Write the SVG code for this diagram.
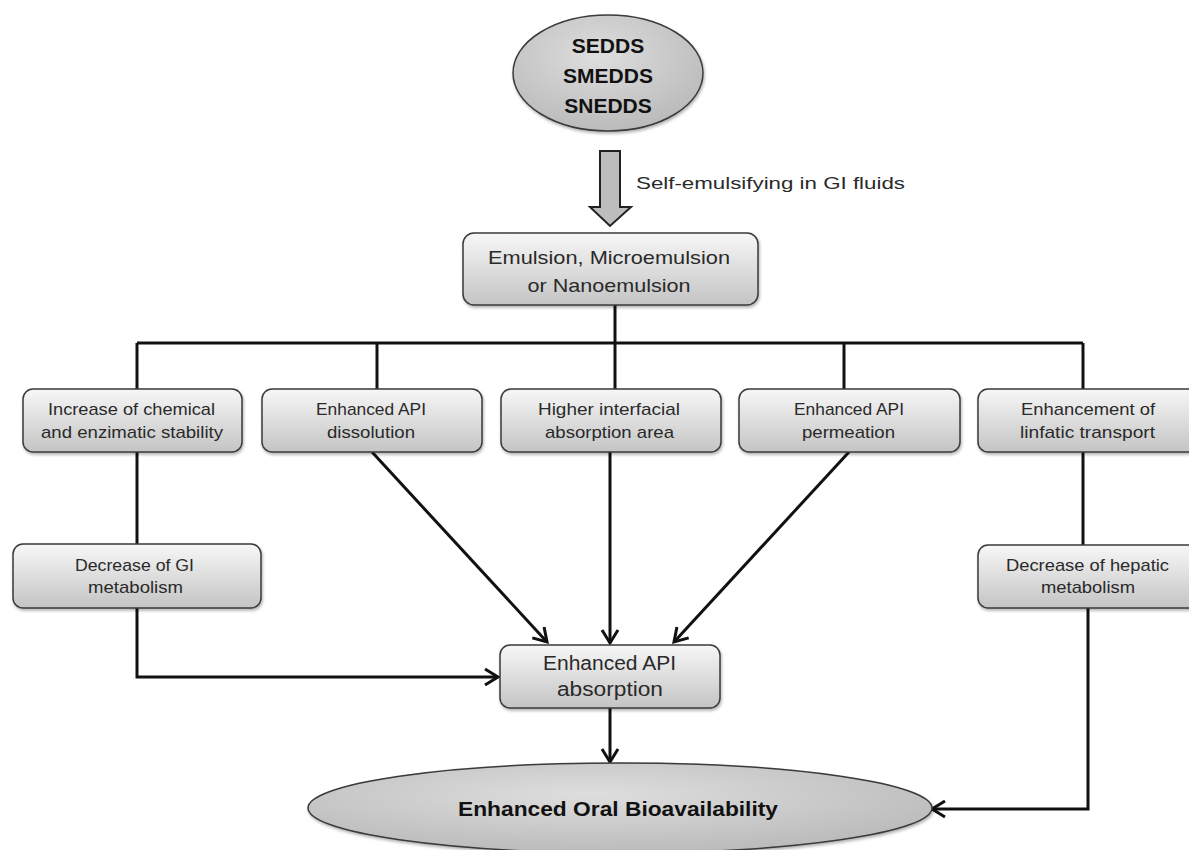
<svg xmlns="http://www.w3.org/2000/svg" width="1189" height="850" viewBox="0 0 1189 850">
<defs>
<linearGradient id="boxg" x1="0" y1="0" x2="0" y2="1">
<stop offset="0" stop-color="#f7f7f7"/>
<stop offset="1" stop-color="#c4c4c4"/>
</linearGradient>
<radialGradient id="ellg" cx="0.45" cy="0.35" r="0.7">
<stop offset="0" stop-color="#dedede"/>
<stop offset="1" stop-color="#b8b8b8"/>
</radialGradient>
<filter id="sh" x="-10%" y="-10%" width="120%" height="130%">
<feDropShadow dx="1" dy="2" stdDeviation="1.5" flood-color="#000" flood-opacity="0.3"/>
</filter>
<marker id="arr" markerUnits="userSpaceOnUse" markerWidth="20" markerHeight="20" viewBox="0 0 20 20" refX="16" refY="10" orient="auto">
<path d="M3,2 L16,10 L3,18" fill="none" stroke="#111" stroke-width="3" stroke-linejoin="miter"/>
</marker>
</defs>
<style>
.box{fill:url(#boxg);stroke:#3a3a3a;stroke-width:1.5;filter:url(#sh)}
.ell{fill:url(#ellg);stroke:#3a3a3a;stroke-width:1.5;filter:url(#sh)}
.t{font-family:"Liberation Sans",Arial,sans-serif;font-size:17px;fill:#2a2a2a;text-anchor:middle}
.tb{font-family:"Liberation Sans",Arial,sans-serif;font-size:21px;font-weight:bold;fill:#111;text-anchor:middle}
.c{fill:none;stroke:#111;stroke-width:3}
</style>
<rect width="1189" height="850" fill="#fff"/>

<g id="connectors">
<polygon points="600,151 620,151 620,207 631,207 610,226 590,207 600,207" fill="#bdbdbd" stroke="#222" stroke-width="2"/>
<path class="c" d="M615,305 V343"/>
<path class="c" d="M137,343 H1083"/>
<path class="c" d="M137,343 V389"/>
<path class="c" d="M377,343 V389"/>
<path class="c" d="M615,343 V389"/>
<path class="c" d="M844,343 V389"/>
<path class="c" d="M1083,343 V389"/>
<path class="c" d="M137,452 V544"/>
<path class="c" d="M1083,452 V545"/>
<path class="c" d="M137,608 V677 H498" marker-end="url(#arr)"/>
<path class="c" d="M372,452 L547,642" marker-end="url(#arr)"/>
<path class="c" d="M610,452 V643" marker-end="url(#arr)"/>
<path class="c" d="M849,452 L674,642" marker-end="url(#arr)"/>
<path class="c" d="M610,708 V762" marker-end="url(#arr)"/>
<path class="c" d="M1088,608 V809 H932" marker-end="url(#arr)"/>
</g>

<g id="sedds">
<ellipse class="ell" cx="608" cy="73" rx="95" ry="58"/>
<text class="tb" x="608" y="52.5">SEDDS</text>
<text class="tb" x="608" y="82.5">SMEDDS</text>
<text class="tb" x="608" y="112.5">SNEDDS</text>
</g>

<g id="label-self">
<text class="t" x="636" y="189" style="text-anchor:start" textLength="269" lengthAdjust="spacingAndGlyphs">Self-emulsifying in GI fluids</text>
</g>

<g id="emulsion">
<rect class="box" x="463" y="233" width="295" height="72" rx="11"/>
<text class="t" x="609" y="264" style="font-size:19px" textLength="242" lengthAdjust="spacingAndGlyphs">Emulsion, Microemulsion</text>
<text class="t" x="609" y="292" style="font-size:19px" textLength="163" lengthAdjust="spacingAndGlyphs">or Nanoemulsion</text>
</g>

<g id="stability">
<rect class="box" x="23" y="389" width="219" height="63" rx="10"/>
<text class="t" x="131.5" y="415" textLength="167" lengthAdjust="spacingAndGlyphs">Increase of chemical</text>
<text class="t" x="132" y="438" textLength="182" lengthAdjust="spacingAndGlyphs">and enzimatic stability</text>
</g>

<g id="dissolution">
<rect class="box" x="262" y="389" width="220" height="63" rx="10"/>
<text class="t" x="371" y="415" textLength="110" lengthAdjust="spacingAndGlyphs">Enhanced API</text>
<text class="t" x="371" y="438" textLength="88" lengthAdjust="spacingAndGlyphs">dissolution</text>
</g>

<g id="interfacial">
<rect class="box" x="501" y="389" width="220" height="63" rx="10"/>
<text class="t" x="609" y="415" textLength="142" lengthAdjust="spacingAndGlyphs">Higher interfacial</text>
<text class="t" x="609.5" y="438" textLength="129" lengthAdjust="spacingAndGlyphs">absorption area</text>
</g>

<g id="permeation">
<rect class="box" x="739" y="389" width="221" height="63" rx="10"/>
<text class="t" x="849" y="415" textLength="110" lengthAdjust="spacingAndGlyphs">Enhanced API</text>
<text class="t" x="848.5" y="438" textLength="93" lengthAdjust="spacingAndGlyphs">permeation</text>
</g>

<g id="linfatic">
<rect class="box" x="978" y="389" width="222" height="63" rx="10"/>
<text class="t" x="1088" y="415" textLength="134" lengthAdjust="spacingAndGlyphs">Enhancement of</text>
<text class="t" x="1087.5" y="438" textLength="135" lengthAdjust="spacingAndGlyphs">linfatic transport</text>
</g>

<g id="gi-metabolism">
<rect class="box" x="13" y="544" width="248" height="64" rx="10"/>
<text class="t" x="134.5" y="571" textLength="119" lengthAdjust="spacingAndGlyphs">Decrease of GI</text>
<text class="t" x="135.5" y="593" textLength="95" lengthAdjust="spacingAndGlyphs">metabolism</text>
</g>

<g id="hepatic-metabolism">
<rect class="box" x="978" y="545" width="222" height="63" rx="10"/>
<text class="t" x="1087.5" y="571" textLength="163" lengthAdjust="spacingAndGlyphs">Decrease of hepatic</text>
<text class="t" x="1088" y="593" textLength="94" lengthAdjust="spacingAndGlyphs">metabolism</text>
</g>

<g id="absorption">
<rect class="box" x="500" y="645" width="220" height="63" rx="10"/>
<text class="t" x="609.5" y="670" style="font-size:20px" textLength="133" lengthAdjust="spacingAndGlyphs">Enhanced API</text>
<text class="t" x="610" y="696" style="font-size:20px" textLength="106" lengthAdjust="spacingAndGlyphs">absorption</text>
</g>

<g id="bioavailability">
<ellipse class="ell" cx="620" cy="808" rx="312" ry="45"/>
<text class="tb" x="618" y="815.5" textLength="320" lengthAdjust="spacingAndGlyphs">Enhanced Oral Bioavailability</text>
</g>
</svg>
